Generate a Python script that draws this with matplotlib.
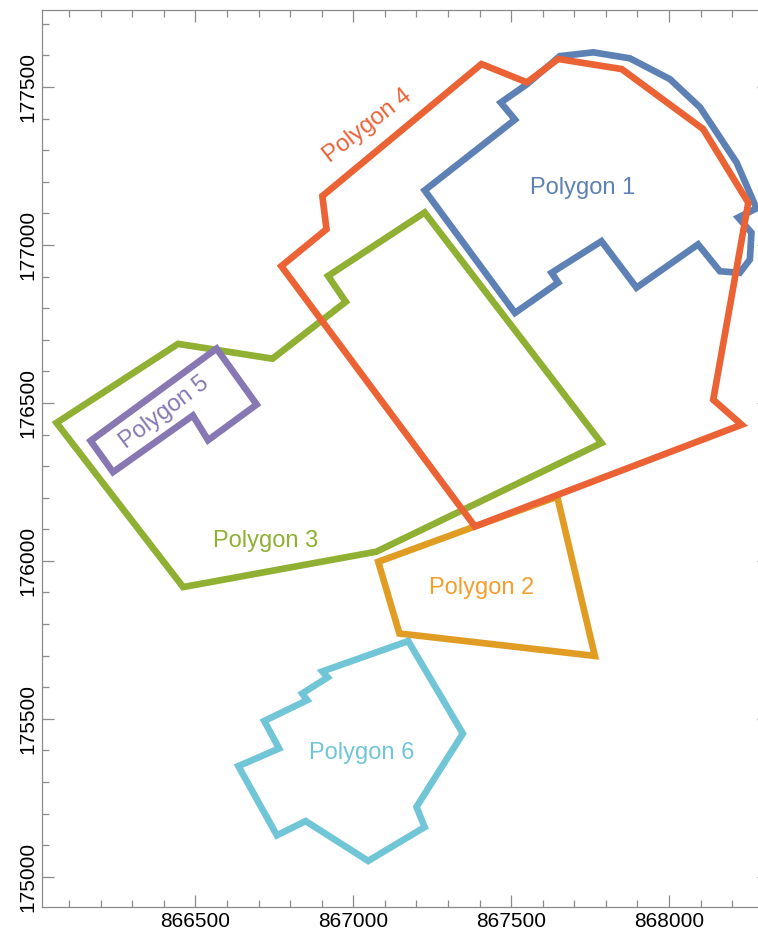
import matplotlib
matplotlib.use("Agg")
import matplotlib.pyplot as plt
from matplotlib.patches import Polygon
from matplotlib.ticker import MultipleLocator

plt.rcParams['font.family'] = ['Liberation Sans', 'DejaVu Sans']

# polygon outlines (easting, northing)
poly1_x = [867226, 867512, 867467, 867550, 867654, 867760, 867876, 868003, 868098,
           868214, 868277, 868219, 868261, 868256, 868224, 868161, 868092, 867897,
           867786, 867628, 867649, 867512]
poly1_y = [177173, 177397, 177451, 177509, 177598, 177610, 177591, 177525, 177436,
           177261, 177116, 177087, 177039, 176954, 176912, 176917, 177002, 176865,
           177012, 176912, 176881, 176785]

poly2_x = [867079, 867383, 867646, 867765, 867146]
poly2_y = [175997, 176108, 176203, 175699, 175770]

poly3_x = [866060, 866445, 866744, 866976, 866920, 867226, 867786, 867073, 866461]
poly3_y = [176437, 176687, 176640, 176820, 176902, 177103, 176373, 176029, 175917]

poly4_x = [866772, 866915, 866902, 867406, 867550, 867649, 867850, 868108, 868251,
           868140, 868230, 867385]
poly4_y = [176933, 177050, 177155, 177573, 177515, 177589, 177557, 177367, 177134,
           176510, 176431, 176109]

poly5_x = [866168, 866567, 866694, 866540, 866492, 866239]
poly5_y = [176380, 176672, 176495, 176382, 176460, 176281]

poly6_x = [867174, 867347, 867200, 867226, 867047, 866849, 866758, 866636, 866765,
           866718, 866854, 866838, 866919, 866902]
poly6_y = [175746, 175453, 175221, 175157, 175050, 175176, 175131, 175350, 175406,
           175493, 175559, 175580, 175631, 175650]

names = ["Polygon 1", "Polygon 2", "Polygon 3", "Polygon 4", "Polygon 5", "Polygon 6"]
line_colors = ["#5E81B5", "#E19C24", "#8FB032", "#EB6235", "#8778B3", "#70C6D6"]
text_colors = ["#5E81B5", "#F59E2C", "#8FB032", "#EB6235", "#8778B3", "#70C6D6"]
label_x = [867727, 867407, 866723, 867045, 866403, 867027]
label_y = [177180, 175914, 176064, 177378, 176469, 175392]
label_rot = [0, 0, 0, 38, 37, 0]

polys = [(poly1_x, poly1_y), (poly2_x, poly2_y), (poly3_x, poly3_y),
         (poly4_x, poly4_y), (poly5_x, poly5_y), (poly6_x, poly6_y)]

fig = plt.figure(figsize=(7.58, 9.36), dpi=100)
# right frame edge sits just outside the picture
ax = fig.add_axes([42.3 / 758, 29.3 / 936, 726.2 / 758, 897 / 936])

for (px, py), c in zip(polys, line_colors):
    ax.add_patch(Polygon(list(zip(px, py)), closed=True, fill=False,
                         edgecolor=c, lw=4.8, joinstyle='miter'))

for name, c, lx, ly, rot in zip(names, text_colors, label_x, label_y, label_rot):
    ax.text(lx, ly, name, color=c, fontsize=17, rotation=rot,
            ha='center', va='center', rotation_mode='anchor')

ax.set_xlim(866015, 868315)
ax.set_ylim(174905, 177745)

ax.xaxis.set_major_locator(MultipleLocator(500))
ax.xaxis.set_minor_locator(MultipleLocator(100))
ax.yaxis.set_major_locator(MultipleLocator(500))
ax.yaxis.set_minor_locator(MultipleLocator(100))

ax.tick_params(which='both', direction='in', top=True, right=True,
               color='#8a8a8a', width=0.9, labelsize=15, pad=3.5)
ax.tick_params(which='major', length=8.5)
ax.tick_params(which='minor', length=4.8)
for lab in ax.get_yticklabels():
    lab.set_rotation(90)
    lab.set_va('center')

for s in ax.spines.values():
    s.set_color('#8a8a8a')
    s.set_linewidth(0.9)

fig.savefig("out.png", dpi=100)
